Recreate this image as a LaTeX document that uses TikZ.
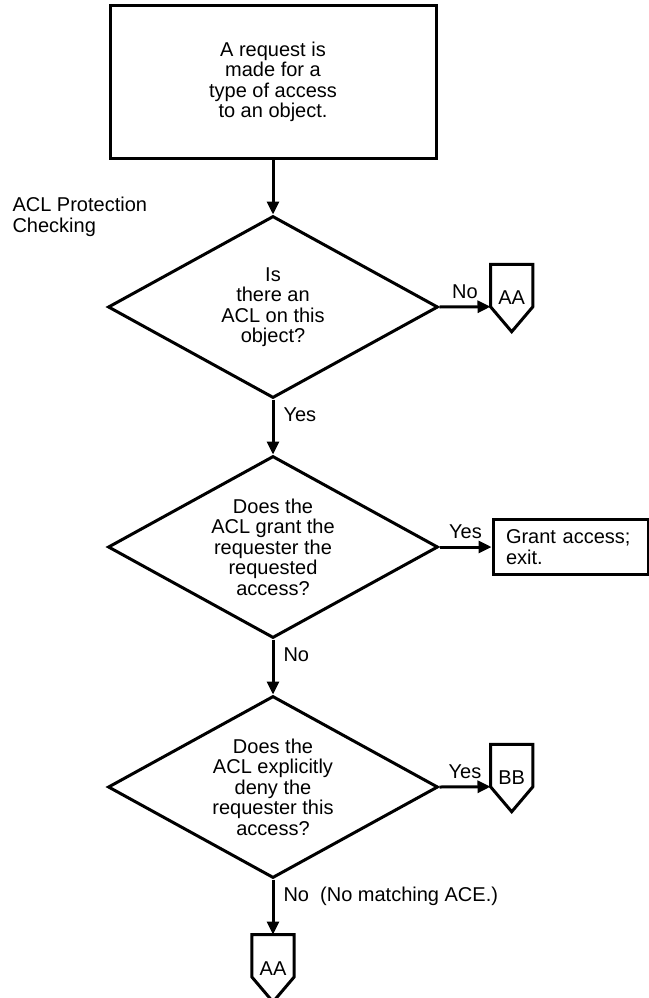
\documentclass[tikz,border=0pt]{standalone}
\usepackage{fontspec}
\setmainfont{Liberation Sans}
\usetikzlibrary{positioning, shapes.geometric, arrows.meta}

\begin{document}
\begin{tikzpicture}[
    x=1pt, y=1pt,
    font=\fontsize{20}{20.5}\selectfont,
    node distance=55pt,
    % Styles
    box/.style={ % Process box
        rectangle,
        draw,
        line width=3pt,
        align=center,
        inner sep=0pt
    },
    decision/.style={ % Question diamond
        diamond,
        aspect=1.8,
        draw,
        line width=3pt,
        minimum width=330pt,
        minimum height=182pt,
        inner sep=0pt,
        align=center
    },
    offpage/.style={ % Off-page connector (outline drawn below)
        rectangle,
        minimum width=42pt,
        minimum height=67pt,
        inner sep=0pt
    },
    outline/.style={
        line width=3pt,
        line join=miter
    },
    arrow/.style={
        -{Triangle[length=13pt, width=12pt]},
        line width=3pt
    },
    answer/.style={ % Labels on the flow lines
        inner sep=0pt,
        text height=14pt,
        text depth=4pt
    }
]
    \useasboundingbox (0,0) rectangle (648,-998);

    % Flowchart nodes
    \node[box, minimum width=326pt, minimum height=152pt] (request) at (273,-82) {A request is\\made for a\\type of access\\to an object.};
    \node[align=left, anchor=west] (title) at (9,-217) {ACL Protection\\Checking};
    \node[decision, below=of request] (hasacl) {Is\\there an\\ACL on this\\object?};
    \node[decision, below=of hasacl] (grants) {Does the\\ACL grant the\\requester the\\requested\\access?};
    \node[decision, below=of grants] (denies) {Does the\\ACL explicitly\\deny the\\requester this\\access?};
    \node[offpage, right=51pt of hasacl, yshift=9pt] (aaright) {AA};
    \node[box, right=52pt of grants, text width=129pt, inner xsep=13pt, minimum height=55pt, align=left] (grant) {Grant access;\\exit.};
    \node[offpage, right=51pt of denies, yshift=9pt] (bb) {BB};
    \node[offpage, below=57pt of denies, yshift=2pt] (aabottom) {AA};

    % Off-page connector outlines
    \foreach \c in {aaright, bb, aabottom}
        \draw[outline] (\c.north west) -- (\c.north east) -- ([yshift=25pt]\c.south east)
            -- (\c.south) -- ([yshift=25pt]\c.south west) -- cycle;

    % Flowchart edges
    \draw[arrow] (request) -- (hasacl);
    \draw[arrow] (hasacl.east) -- ([yshift=25pt]aaright.south west) node[answer, midway, above=3pt] {No};
    \draw[arrow] (hasacl) -- (grants) node[answer, pos=0.3, right=9pt] {Yes};
    \draw[arrow] (grants) -- (grant) node[answer, midway, above=3pt] {Yes};
    \draw[arrow] (grants) -- (denies) node[answer, pos=0.3, right=9pt] {No};
    \draw[arrow] (denies.east) -- ([yshift=25pt]bb.south west) node[answer, midway, above=3pt] {Yes};
    \draw[arrow] (denies) -- (aabottom) node[answer, pos=0.3, right=9pt] {No\ \ (No matching ACE.)};
\end{tikzpicture}
\end{document}
